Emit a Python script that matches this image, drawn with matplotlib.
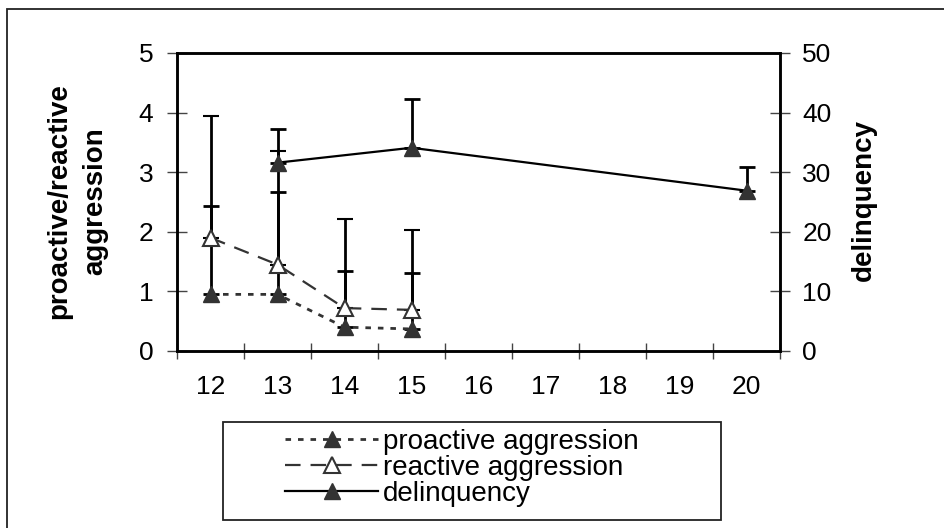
import matplotlib
matplotlib.use('Agg')
import matplotlib.pyplot as plt
from matplotlib.patches import Rectangle
from matplotlib.lines import Line2D
import numpy as np

plt.rcParams['font.family'] = ['Liberation Sans', 'DejaVu Sans']

# ---- data ----
ages = [12, 13, 14, 15, 16, 17, 18, 19, 20]
agg_ages = [12, 13, 14, 15]
proactive = [0.95, 0.95, 0.40, 0.37]
proactive_sd = [1.49, 1.71, 0.95, 0.94]
reactive = [1.90, 1.45, 0.72, 0.69]
reactive_sd = [2.04, 1.90, 1.50, 1.34]
del_ages = [13, 15, 20]
delinquency = [31.6, 34.1, 26.9]
delinquency_sd = [5.6, 8.1, 4.0]
left_ticks = [0, 1, 2, 3, 4, 5]
right_ticks = [0, 10, 20, 30, 40, 50]
series_names = ['proactive aggression', 'reactive aggression', 'delinquency']

W, H = 944, 528
fig = plt.figure(figsize=(W / 100, H / 100), dpi=100)

# outer frame
fig.add_artist(Rectangle((7 / W, -0.1), 1.2, 1 - 9 / H + 0.1, transform=fig.transFigure,
                         fill=False, ec='#222222', lw=1.3))

ax = fig.add_axes([177 / W, 1 - 351 / H, (780 - 177) / W, (351 - 53) / H])
ax2 = ax.twinx()

xa = [ages.index(a) for a in agg_ages]
xd = [ages.index(a) for a in del_ages]
dark = '#333333'
eb = dict(ecolor='black', elinewidth=2, capsize=6, capthick=2)

ax.errorbar(xa, proactive, yerr=[np.zeros(len(proactive)), proactive_sd],
            color=dark, ls=(0, (2, 2.5)), lw=2, marker='^', ms=11,
            mfc=dark, mec=dark, zorder=3, **eb)
ax.errorbar(xa, reactive, yerr=[np.zeros(len(reactive)), reactive_sd],
            color=dark, ls=(0, (7, 4.5)), lw=1.6, marker='^', ms=11,
            mfc='white', mec=dark, mew=1.5, zorder=4, **eb)
ax2.errorbar(xd, delinquency, yerr=[np.zeros(len(delinquency)), delinquency_sd],
             color='black', ls='-', lw=1.6, marker='^', ms=11,
             mfc=dark, mec=dark, zorder=3, **eb)

ax.set_xlim(-0.5, len(ages) - 0.5)
ax.set_ylim(0, 5)
ax2.set_ylim(0, 50)
ax.set_yticks(left_ticks)
ax2.set_yticks(right_ticks)

ax.set_xticks(np.arange(len(ages) + 1) - 0.5)
ax.set_xticklabels([])
ax.set_xticks(np.arange(len(ages)), minor=True)
ax.set_xticklabels([str(a) for a in ages], minor=True)

for a in (ax, ax2):
    for s in a.spines.values():
        s.set_linewidth(1.8)
        s.set_color('black')

ax.tick_params(axis='x', which='major', direction='inout', length=12, width=1, color='#444444')
ax.tick_params(axis='x', which='minor', length=0, labelsize=19, pad=17)
ax.tick_params(axis='y', direction='inout', length=14, width=1, labelsize=19, pad=10, color='#444444')
ax2.tick_params(axis='y', direction='inout', length=14, width=1, labelsize=19, pad=9, color='#444444')

fig.text(77 / W, 1 - 201 / H, 'proactive/reactive\naggression', rotation=90,
         ha='center', va='center', fontsize=20, fontweight='bold', linespacing=1.5,
         multialignment='center')
fig.text(864 / W, 1 - 200 / H, 'delinquency', rotation=90, ha='center', va='center',
         fontsize=20, fontweight='bold')

# legend box
fig.add_artist(Rectangle((223 / W, 1 - 520 / H), (721 - 223) / W, (520 - 422) / H,
                         transform=fig.transFigure, fill=False, ec='#222222', lw=1.3))
handles = [
    Line2D([], [], color=dark, ls=(0, (2, 2.5)), lw=2, marker='^', ms=11, mfc=dark, mec=dark),
    Line2D([], [], color=dark, ls=(0, (7, 4.5)), lw=1.6, marker='^', ms=11, mfc='white', mec=dark, mew=1.5),
    Line2D([], [], color='black', ls='-', lw=1.6, marker='^', ms=11, mfc=dark, mec=dark),
]
fig.legend(handles, series_names, loc='center left', bbox_to_anchor=(285 / W, 1 - 468 / H),
           frameon=False, fontsize=20, handlelength=3.35, handletextpad=0.18,
           labelspacing=0.0, borderpad=0, borderaxespad=0)

fig.savefig('out.png', dpi=100)
